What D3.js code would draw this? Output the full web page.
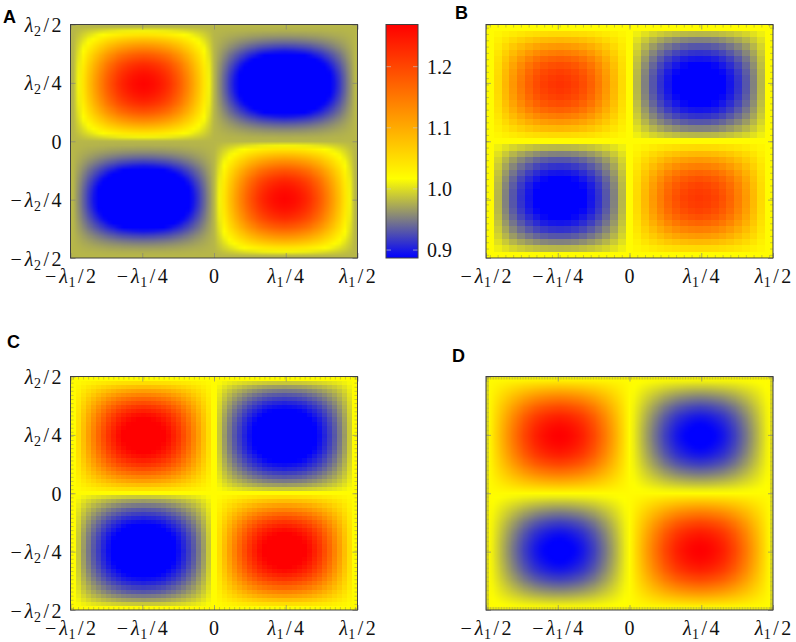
<!DOCTYPE html>
<html><head><meta charset="utf-8">
<script src="https://cdn.jsdelivr.net/npm/d3@7"></script>
<style>
html,body{margin:0;padding:0;background:#fff;}
svg{display:block;}
</style></head>
<body>
<svg id="fig" width="796" height="642"></svg>
<script>
// ================= DATA =================
const panelNames = ["A", "B", "C", "D"];
// axis ticks, in units of the wavelength (lambda)
const tickPositions = [-0.5, -0.25, 0, 0.25, 0.5];
const xTickLabels = ["−λ1/2", "−λ1/4", "0", "λ1/4", "λ1/2"];
const yTickLabels = ["−λ2/2", "−λ2/4", "0", "λ2/4", "λ2/2"];
// colour bar
const colorbarTicks = [0.9, 1.0, 1.1, 1.2];
const colorbarTickLabels = ["0.9", "1.0", "1.1", "1.2"];
const colorStops = [0.887, 0.952, 1.017, 1.269];
const colorStopColors = ["#0000ff", "#808080", "#ffff00", "#ff0000"];
// field level between the lobes (edges and central cross) of each panel
const baseValues = [0.98, 1.02, 1.02, 1.02];
// peak value of the four lobes: top-left, top-right, bottom-left, bottom-right
const peaksA = [1.265, 0.79, 0.79, 1.265];
const peaksB = [1.22, 0.87, 0.87, 1.215];
const peaksC = [1.30, 0.855, 0.855, 1.30];
const peaksD = [1.27, 0.88, 0.88, 1.27];
// lobe profiles across an axis (fraction of the peak), one value per grid cell
const profile37 = [0,.17,.34,.50,.64,.77,.87,.94,.98,1,.98,.94,.87,.77,.64,.50,.34,.17,0,
                   .17,.34,.50,.64,.77,.87,.94,.98,1,.98,.94,.87,.77,.64,.50,.34,.17,0];
const profile37Soft = [0,.27,.45,.60,.72,.82,.90,.96,.99,1,.99,.96,.90,.82,.72,.60,.45,.27,0,
                   .27,.45,.60,.72,.82,.90,.96,.99,1,.99,.96,.90,.82,.72,.60,.45,.27,0];
const profile57 = [0,.11,.22,.33,.43,.53,.62,.71,.78,.85,.90,.94,.97,.99,1,.99,.97,.94,.90,.85,.78,.71,.62,.53,.43,.33,.22,.11,0,
                   .11,.22,.33,.43,.53,.62,.71,.78,.85,.90,.94,.97,.99,1,.99,.97,.94,.90,.85,.78,.71,.62,.53,.43,.33,.22,.11,0];
const profile57Soft = [0,.19,.33,.44,.54,.62,.70,.77,.83,.88,.93,.96,.98,.99,1,.99,.98,.96,.93,.88,.83,.77,.70,.62,.54,.44,.33,.19,0,
                   .19,.33,.44,.54,.62,.70,.77,.83,.88,.93,.96,.98,.99,1,.99,.98,.96,.93,.88,.83,.77,.70,.62,.54,.44,.33,.19,0];
const profile57Narrow = [0,.02,.07,.14,.22,.32,.43,.54,.64,.74,.83,.90,.96,.99,1,.99,.96,.90,.83,.74,.64,.54,.43,.32,.22,.14,.07,.02,0,
                   .02,.07,.14,.22,.32,.43,.54,.64,.74,.83,.90,.96,.99,1,.99,.96,.90,.83,.74,.64,.54,.43,.32,.22,.14,.07,.02,0];
// number of minor (grid) ticks along the frame of each panel
const minorTickCounts = [0, 37, 57, 181];

// ================= LAYOUT / STYLE =================
const SERIF = "'Liberation Serif', 'DejaVu Serif', serif";
const SANS = "'Liberation Sans', Arial, Helvetica, sans-serif";
const PW = 287, PH = 233.5;
// per quadrant (TL, TR, BL, BR) profile choice
const layout = [
  {x: 70.5, y: 24.5, lx: 3, ly: 23, yLabels: true, smooth: true, peaks: peaksA,
   px: [profile57, profile57, profile57, profile57],
   py: [profile57, profile57Narrow, profile57Narrow, profile57]},
  {x: 486, y: 24.5, lx: 455, ly: 19, yLabels: false, smooth: false, peaks: peaksB,
   px: [profile37, profile37Soft, profile37Soft, profile37],
   py: [profile37, profile37Soft, profile37Soft, profile37]},
  {x: 70.5, y: 376.5, lx: 7, ly: 348, yLabels: true, smooth: false, peaks: peaksC,
   px: [profile57, profile57Soft, profile57Soft, profile57],
   py: [profile57, profile57Soft, profile57Soft, profile57]},
  {x: 486, y: 376.5, lx: 452, ly: 362, yLabels: false, smooth: true, peaks: peaksD,
   px: [profile57, profile57, profile57, profile57], py: [profile57, profile57, profile57, profile57]}
];
const cbar = {x: 386, y: 24.5, w: 32, h: 233.5};

const svg = d3.select("#fig");
const color = d3.scaleLinear().domain(colorStops).range(colorStopColors)
  .interpolate(d3.interpolateRgb).clamp(true);

function styleText(sel) {
  sel.style("font-family", SERIF).style("font-size", "20px").attr("fill", "#111");
}
function mathLabel(sel, s) {
  styleText(sel);
  const k = s.indexOf("λ");
  if (k < 0) { sel.text(s); return; }
  if (k > 0) sel.append("tspan").text(s.slice(0, k));
  sel.append("tspan").attr("dx", k > 0 ? 3 : 0).style("font-style", "italic").text("λ");
  sel.append("tspan").style("font-size", "14px").attr("dy", 4).attr("dx", 0.5).text(s[k + 1]);
  sel.append("tspan").attr("dy", -4).attr("dx", 2.5).text(s.slice(k + 2, k + 3));
  sel.append("tspan").attr("dx", 2.5).text(s.slice(k + 3));
}

const defs = svg.append("defs");

panelNames.forEach((name, p) => {
  const L = layout[p];
  const g = svg.append("g").attr("transform", `translate(${L.x},${L.y})`);
  const xs = d3.scaleLinear().domain([-0.5, 0.5]).range([0, PW]);
  const ys = d3.scaleLinear().domain([-0.5, 0.5]).range([PH, 0]);
  const N = L.px[0].length, mid = (N - 1) / 2;
  const base = baseValues[p];
  const cells = [];
  for (let j = 0; j < N; j++) for (let i = 0; i < N; i++) {
    const q = (j < mid ? 0 : 2) + (i < mid ? 0 : 1);
    cells.push({i, j, v: base + (L.peaks[q] - base) * L.px[q][i] * L.py[q][j]});
  }
  const xb = d3.scaleBand().domain(d3.range(N)).range([0, PW]);
  const yb = d3.scaleBand().domain(d3.range(N)).range([0, PH]);

  defs.append("clipPath").attr("id", "clip" + name)
    .append("rect").attr("width", PW).attr("height", PH);
  const hg = g.append("g").attr("clip-path", `url(#clip${name})`);

  if (L.smooth) {
    const cnv = document.createElement("canvas");
    cnv.width = N; cnv.height = N;
    const ctx = cnv.getContext("2d");
    const img = ctx.createImageData(N, N);
    cells.forEach(d => {
      const c = d3.rgb(color(d.v));
      const o = 4 * (d.j * N + d.i);
      img.data[o] = c.r; img.data[o + 1] = c.g; img.data[o + 2] = c.b; img.data[o + 3] = 255;
    });
    ctx.putImageData(img, 0, 0);
    hg.append("image").attr("href", cnv.toDataURL())
      .attr("x", xs(-0.5)).attr("y", ys(0.5))
      .attr("width", xs(0.5) - xs(-0.5)).attr("height", ys(-0.5) - ys(0.5))
      .attr("preserveAspectRatio", "none");
  } else {
    hg.selectAll("rect").data(cells).join("rect")
      .attr("x", d => xb(d.i)).attr("y", d => yb(d.j))
      .attr("width", xb.bandwidth() + 0.6).attr("height", yb.bandwidth() + 0.6)
      .attr("fill", d => color(d.v))
      .attr("shape-rendering", "crispEdges");
  }

  // minor ticks (grid)
  const nm = minorTickCounts[p];
  if (nm > 0) {
    const mx = d3.scaleBand().domain(d3.range(nm)).range([-0.5, 0.5]);
    const mt = d3.range(nm).map(k => mx(k) + mx.bandwidth() / 2);
    const mk = (axis, tr) => g.append("g").attr("transform", tr)
      .call(axis.tickValues(mt).tickSize(-3).tickFormat(""))
      .call(a => a.select(".domain").remove())
      .call(a => a.selectAll("line").attr("stroke", "#707070").attr("stroke-opacity", 0.55).attr("stroke-width", 0.7));
    mk(d3.axisBottom(xs), `translate(0,${PH})`);
    mk(d3.axisTop(xs), "translate(0,0)");
    mk(d3.axisLeft(ys), "translate(0,0)");
    mk(d3.axisRight(ys), `translate(${PW},0)`);
  }
  // major ticks
  const mj = (axis, tr) => g.append("g").attr("transform", tr)
    .call(axis.tickValues(tickPositions).tickSize(-5).tickFormat(""))
    .call(a => a.select(".domain").remove())
    .call(a => a.selectAll("line").attr("stroke", "#808080").attr("stroke-opacity", 0.8).attr("stroke-width", 0.8));
  mj(d3.axisBottom(xs), `translate(0,${PH})`);
  mj(d3.axisTop(xs), "translate(0,0)");
  mj(d3.axisLeft(ys), "translate(0,0)");
  mj(d3.axisRight(ys), `translate(${PW},0)`);

  // frame
  g.append("rect").attr("width", PW).attr("height", PH)
    .attr("fill", "none").attr("stroke", "#404040").attr("stroke-width", 1);

  // tick labels
  tickPositions.forEach((t, k) => {
    g.append("text").attr("text-anchor", "middle")
      .attr("x", xs(t)).attr("y", PH + 25)
      .call(s => mathLabel(s, xTickLabels[k]));
  });
  if (L.yLabels) {
    tickPositions.forEach((t, k) => {
      g.append("text").attr("text-anchor", "end")
        .attr("x", -9).attr("y", ys(t) + 7.5)
        .call(s => mathLabel(s, yTickLabels[k]));
    });
  }
  // panel letter
  svg.append("text").attr("x", L.lx).attr("y", L.ly)
    .style("font-family", SANS).style("font-size", "18px").style("font-weight", "bold")
    .attr("fill", "#000").text(name);
});

// ================= COLOUR BAR =================
const cbScale = d3.scaleLinear().domain([colorStops[0], colorStops[colorStops.length - 1]]).range([cbar.h, 0]);
const grad = defs.append("linearGradient").attr("id", "cbgrad")
  .attr("x1", 0).attr("y1", 1).attr("x2", 0).attr("y2", 0);
colorStops.forEach((v, k) => {
  grad.append("stop")
    .attr("offset", (cbar.h - cbScale(v)) / cbar.h)
    .attr("stop-color", colorStopColors[k]);
});
const cb = svg.append("g").attr("transform", `translate(${cbar.x},${cbar.y})`);
cb.append("rect").attr("width", cbar.w).attr("height", cbar.h).attr("fill", "url(#cbgrad)");
colorbarTicks.forEach(v => {
  [[0, 5], [cbar.w - 5, cbar.w]].forEach(([a, b]) => {
    cb.append("line").attr("x1", a).attr("x2", b).attr("y1", cbScale(v)).attr("y2", cbScale(v))
      .attr("stroke", "#c8c8c8").attr("stroke-opacity", 0.8).attr("stroke-width", 0.8);
  });
});
cb.append("rect").attr("width", cbar.w).attr("height", cbar.h)
  .attr("fill", "none").attr("stroke", "#404040").attr("stroke-width", 1);
cb.append("g").attr("transform", `translate(${cbar.w},0)`)
  .call(d3.axisRight(cbScale).tickValues(colorbarTicks).tickSize(0).tickPadding(9)
    .tickFormat((d, i) => colorbarTickLabels[i]))
  .call(a => a.select(".domain").remove())
  .call(a => a.selectAll("text").call(styleText).attr("dy", "0.33em"));
</script>
</body></html>
